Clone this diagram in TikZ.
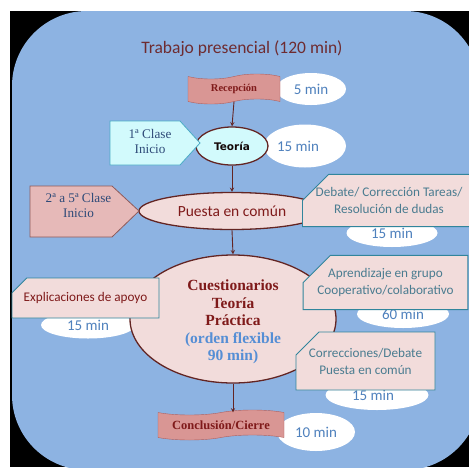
\documentclass[tikz,border=0pt]{standalone}
\usepackage{fontspec}
\setmainfont{Liberation Serif}
\newfontfamily\calibfont{Carlito}
\newfontfamily\tahfont{DejaVu Sans}
\usepackage{xcolor}
\usetikzlibrary{arrows,shapes.geometric,shapes.symbols,shapes.misc}

\definecolor{bgblue}{HTML}{8DB3E2}
\definecolor{maroon}{HTML}{632523}
\definecolor{titlered}{HTML}{6E2B30}
\definecolor{darkred}{HTML}{7F1A1A}
\definecolor{bannerfill}{HTML}{D99694}
\definecolor{bannerline}{HTML}{B0605E}
\definecolor{pinkfill}{HTML}{F2DCDB}
\definecolor{rosefill}{HTML}{E6B9B8}
\definecolor{roseline}{HTML}{8E5A5A}
\definecolor{cyanfill}{HTML}{D2FAFC}
\definecolor{cyanline}{HTML}{4BACC6}
\definecolor{tealline}{HTML}{31859C}
\definecolor{tealtext}{HTML}{4A7C90}
\definecolor{minblue}{HTML}{4F81BD}
\definecolor{flexblue}{HTML}{558ED5}
\definecolor{slatetext}{HTML}{2E4A78}

\begin{document}
\begin{tikzpicture}[x=1pt,y=-1pt,>=stealth,
    minell/.style={ellipse,fill=white,inner sep=0pt,text=minblue,
      font=\calibfont\fontsize{15}{15}\selectfont},
    banner/.style={tape,draw=bannerline,fill=bannerfill,inner sep=0pt,
      minimum height=30pt,text=darkred,font=\bfseries},
    stage/.style={ellipse,draw=maroon,line width=1.3pt,inner sep=0pt},
    startshape/.style={line width=0.8pt,line join=miter},
    starttext/.style={inner sep=0pt,align=center,text=slatetext,
      font=\fontsize{13.2}{15}\selectfont},
    notebox/.style={chamfered rectangle,chamfered rectangle corners=north west,
      chamfered rectangle xsep=16pt,chamfered rectangle ysep=13pt,
      draw=tealline,line width=0.9pt,fill=pinkfill,inner sep=0pt,align=center,
      text=tealtext,font=\calibfont\fontsize{13.2}{17}\selectfont},
    link/.style={->,draw=maroon,line width=0.9pt}]
    \useasboundingbox (0,0) rectangle (469,467);
    \clip (0,0) rectangle (469,467);
    \fill[black] (10,11) rectangle (469,467);
    \fill[bgblue,rounded corners=75pt] (12,11) rectangle (480,470);

    \node[text=titlered,font=\calibfont\fontsize{17.5}{17.5}\selectfont] (title) at (242,49) {Trabajo presencial (120 min)};

    \node[minell,minimum width=70pt,minimum height=32pt] (min5) at (311,89) {5 min};
    \node[minell,minimum width=82pt,minimum height=43pt] (min15a) at (305,146) {\hspace*{-14pt}15 min};
    \node[minell,minimum width=91pt,minimum height=28pt] (min15b) at (392,233) {\raisebox{-4pt}{15 min}};
    \node[minell,minimum width=94pt,minimum height=27pt] (min15c) at (88,325) {\raisebox{-2pt}{15 min}};
    \node[minell,minimum width=92pt,minimum height=28pt] (min60) at (403,314) {\raisebox{-2pt}{60 min}};
    \node[minell,minimum width=103pt,minimum height=30pt] (min15d) at (377,395) {\hspace*{-8pt}15 min};
    \node[minell,minimum width=78pt,minimum height=38pt] (min10) at (316,432) {10 min};

    \node[banner,minimum width=92pt,font=\bfseries\fontsize{10.5}{12}\selectfont] (recep) at (234,89) {Recepción};
    \node[stage,fill=cyanfill,minimum width=72pt,minimum height=38pt,text=black!80!maroon,
      font=\tahfont\bfseries\fontsize{10.5}{11}\selectfont] (teoria) at (232,146) {Teoría};
    \filldraw[startshape,fill=cyanfill,draw=cyanline]
      (110,121) -- (180,121) -- (200,143) -- (180,165) -- (110,165) -- cycle;
    \node[starttext] (clase1) at (150,141.5) {1ª Clase\\Inicio};

    \node[stage,fill=pinkfill,minimum width=186pt,minimum height=37pt,text=darkred,
      font=\calibfont\fontsize{15.5}{15.5}\selectfont] (puesta) at (232,211) {Puesta en común};
    \filldraw[startshape,fill=rosefill,draw=roseline]
      (30,186) -- (112,186) -- (139,211) -- (112,237) -- (30,237) -- cycle;
    \node[starttext] (clase25) at (78.5,205.5) {2ª a 5ª Clase\\Inicio};
    \node[notebox,minimum width=166pt,minimum height=51pt] (debate) at (389,200.5)
      {Debate/ Corrección Tareas/\\Resolución de dudas};

    \node[stage,fill=pinkfill,minimum width=206pt,minimum height=128pt,align=center,
      font=\bfseries\fontsize{15.5}{17.5}\selectfont] (cuest) at (233,319) {};
    \node[align=center,inner sep=0pt,font=\bfseries\fontsize{15.5}{17.5}\selectfont] (cuesttext) at (233,322)
      {\textcolor{darkred}{Cuestionarios}\\\textcolor{darkred}{Teoría}\\\textcolor{darkred}{Práctica}\\
       \textcolor{flexblue}{(orden flexible}\\\textcolor{flexblue}{90 min)}};
    \node[notebox,text=darkred,chamfered rectangle xsep=26pt,chamfered rectangle ysep=9pt,
      minimum width=147pt,minimum height=40pt] (expl) at (85.5,298)
      {Explicaciones de apoyo};
    \node[notebox,minimum width=159pt,minimum height=51pt] (aprend) at (385.5,282.5)
      {Aprendizaje en grupo\\Cooperativo/colaborativo};
    \node[notebox,chamfered rectangle xsep=12pt,chamfered rectangle ysep=11pt,
      minimum width=139pt,minimum height=58pt] (correc) at (365.5,361)
      {Correcciones/Debate\\Puesta en común};

    \node[banner,minimum width=126pt,font=\bfseries\fontsize{12.5}{14}\selectfont] (concl) at (221,425)
      {Conclusión/Cierre};

    \draw[link] (recep.south) -- (teoria.north);
    \draw[link] (teoria.south) -- (puesta.north);
    \draw[link] (puesta.south) -- (cuest.north);
    \draw[link] (cuest.south) -- (cuest.south |- concl.north);
\end{tikzpicture}
\end{document}
